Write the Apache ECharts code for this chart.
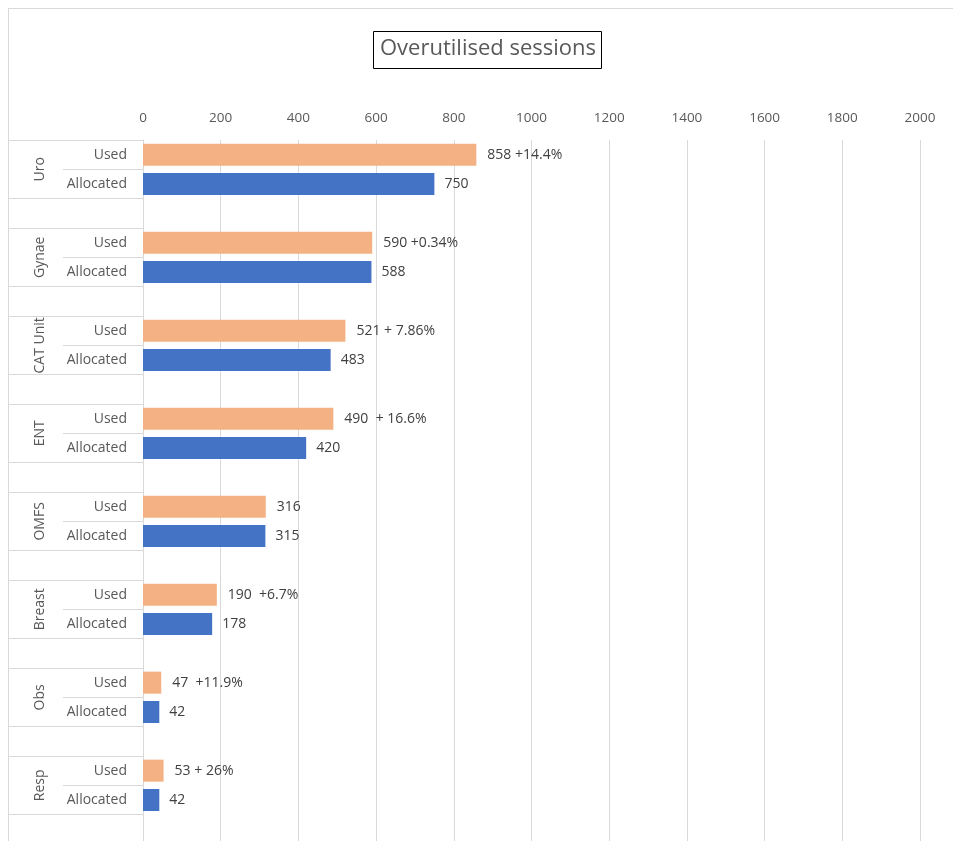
<!DOCTYPE html>
<html>
<head>
<meta charset="utf-8">
<script src="https://cdn.jsdelivr.net/npm/echarts@6/dist/echarts.min.js"></script>
<style>
  html, body { margin: 0; padding: 0; background: #fff; }
  #chart { position: absolute; left: 0; top: 0; width: 953px; height: 841px; }
  #frame { position: absolute; left: 8px; top: 8px; width: 960px; height: 850px;
           border-top: 1px solid #d9d9d9; border-left: 1px solid #d9d9d9; pointer-events: none; }
</style>
</head>
<body>
<div id="chart"></div>
<div id="frame"></div>
<script>
// specialty groups, top to bottom
const groups = ['Uro', 'Gynae', 'CAT Unit', 'ENT', 'OMFS', 'Breast', 'Obs', 'Resp']
const subLabels = ['Used', 'Allocated', '']
const usedValues = [858, 590, 521, 490, 316, 190, 47, 53]
const allocatedValues = [750, 588, 483, 420, 315, 178, 42, 42]
const usedLabels = ['858 +14.4%', '590 +0.34%', '521 + 7.86%', '490  + 16.6%', '316', '190  +6.7%', '47  +11.9%', '53 + 26%']
const xTicks = [0, 2000, 200] // min, max, interval

const textColor = '#595959'
const lineColor = '#d9d9d9'
const font = 'Open Sans'

// each group takes three slots: Used, Allocated, blank gap
const slots = []
const usedData = []
const allocData = []
groups.forEach((g, i) => {
  subLabels.forEach((s, k) => {
    slots.push(s)
    usedData.push(k === 0 ? usedValues[i] : '-')
    allocData.push(k === 1 ? allocatedValues[i] : '-')
  })
})
// boundaries (25) for the outer group labels, name sits on Used/Allocated divider
const groupBounds = []
for (let b = 0; b <= slots.length; b++) {
  groupBounds.push(b % 3 === 1 ? groups[(b - 1) / 3] : '')
}

const chart = echarts.init(document.getElementById('chart'))
chart.setOption({
  animation: false,
  textStyle: { fontFamily: font },
  title: {
    text: 'Overutilised sessions',
    left: 373,
    top: 31,
    padding: [7, 6, 9, 7],
    borderColor: '#000',
    borderWidth: 1,
    textStyle: { fontFamily: font, fontSize: 22, fontWeight: 'normal', color: textColor },
  },
  grid: { left: 143, right: 33, top: 140, height: 704, outerBoundsMode: 'none', containLabel: false },
  xAxis: {
    type: 'value',
    position: 'top',
    min: xTicks[0],
    max: xTicks[1],
    interval: xTicks[2],
    axisLine: { show: false },
    axisTick: { show: false },
    axisLabel: { color: textColor, fontSize: 13.5, margin: 15, formatter: (v) => String(v) },
    splitLine: { lineStyle: { color: lineColor, width: 1 } },
  },
  yAxis: [
    {
      type: 'category',
      position: 'left',
      offset: 0,
      inverse: true,
      data: slots,
      axisLine: { show: true, lineStyle: { color: lineColor } },
      axisTick: {
        show: true,
        length: 135,
        interval: (i) => i % 3 !== 1,
        lineStyle: { color: lineColor },
      },
      axisLabel: { color: textColor, fontSize: 14, margin: 16, interval: 0 },
    },
    {
      type: 'category',
      position: 'left',
      offset: 0,
      inverse: true,
      data: slots,
      axisLine: { show: false },
      axisTick: {
        show: true,
        length: 80,
        interval: (i) => i % 3 === 1,
        lineStyle: { color: lineColor },
      },
      axisLabel: { show: false },
    },
    {
      type: 'category',
      position: 'left',
      offset: 0,
      inverse: true,
      boundaryGap: false,
      data: groupBounds,
      axisLine: { show: false },
      axisTick: { show: false },
      axisLabel: { color: textColor, fontSize: 14, margin: 96, rotate: 90, interval: 0 },
    },
  ],
  series: [
    {
      name: 'Used',
      type: 'bar',
      data: usedData,
      barWidth: 22,
      barGap: '-100%',
      itemStyle: { color: '#F4B183' },
      label: {
        show: true,
        position: 'right',
        distance: 11,
        color: '#404040',
        fontSize: 14,
        formatter: (p) => usedLabels[Math.floor(p.dataIndex / 3)],
      },
    },
    {
      name: 'Allocated',
      type: 'bar',
      data: allocData,
      barWidth: 22,
      barGap: '-100%',
      itemStyle: { color: '#4472C4' },
      label: { show: true, position: 'right', distance: 10, color: '#404040', fontSize: 14 },
    },
  ],
})
</script>
</body>
</html>
